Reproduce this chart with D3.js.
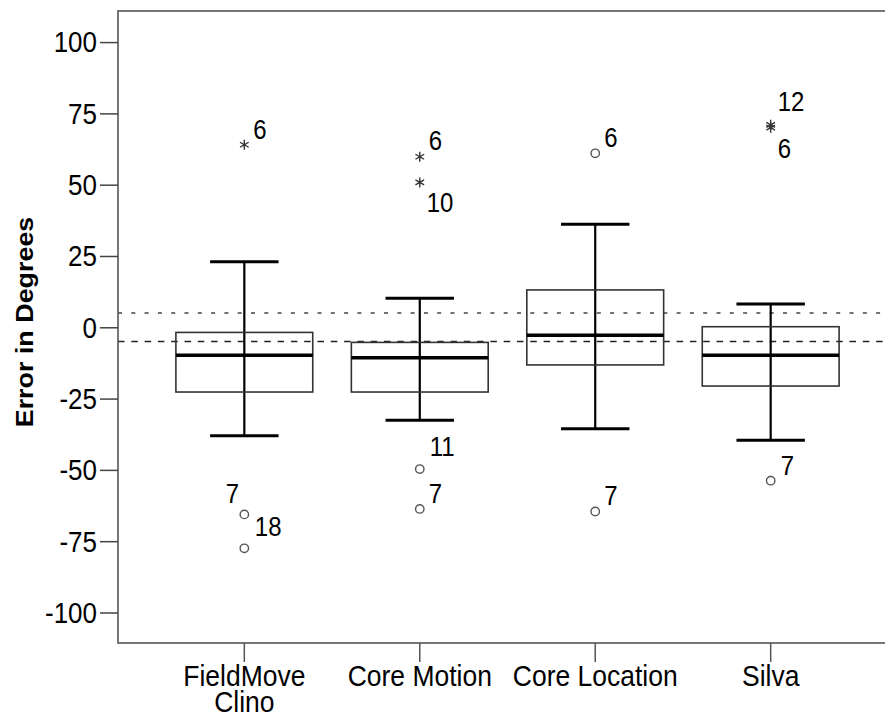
<!DOCTYPE html>
<html><head><meta charset="utf-8">
<script src="https://cdn.jsdelivr.net/npm/d3@7"></script>
<style>
body{margin:0;background:#fff}
svg text{font-family:"Liberation Sans",Arial,sans-serif;fill:#000}
</style>
</head><body><svg id="c" width="885" height="717"></svg>
<script>
// ---- data ----
const categories = ["FieldMove Clino", "Core Motion", "Core Location", "Silva"];
const categoryLines = [["FieldMove", "Clino"], ["Core Motion"], ["Core Location"], ["Silva"]];
const whiskerLow  = [-38.0, -32.6, -35.6, -39.6];
const q1          = [-22.7, -22.7, -13.2, -20.6];
const medians     = [-9.8, -10.7, -2.8, -9.8];
const q3          = [-1.8, -5.3, 13.1, 0.2];
const whiskerHigh = [23.0, 10.2, 36.1, 8.2];

const outlierCategory = ["FieldMove Clino","FieldMove Clino","FieldMove Clino",
  "Core Motion","Core Motion","Core Motion","Core Motion",
  "Core Location","Core Location",
  "Silva","Silva","Silva"];
const outlierValues = [64, -65.6, -77.5, 59.8, 50.8, -49.7, -63.7, 61, -64.6, 71, 70, -53.8];
const outlierCases  = ["6","7","18","6","10","11","7","6","7","12","6","7"];
const outlierExtreme = [true,false,false,true,true,false,false,false,false,true,true,false];

const yTicks = [-100, -75, -50, -25, 0, 25, 50, 75, 100];
const yTickLabels = ["-100", "-75", "-50", "-25", "0", "25", "50", "75", "100"];
const referenceLines = [5, -5];
const yLabel = "Error in Degrees";

// ---- layout (not data) ----
const labelOffsets = [[9,-6],[-18.5,-11.6],[10.5,-12],[9,-6.7],[7,29.4],[10,-13],[9,-6.3],
  [9,-6.6],[9,-6.7],[7,-14],[7,30.7],[10,-5.7]];
const pL = 118, pR = 897, pT = 11, pB = 643;
const sy = 1.12; // vertical text stretch

const svg = d3.select("#c");
const x = d3.scaleBand().domain(categories).range([pL, pR]).paddingInner(0).paddingOuter(0.22);
const y = d3.scaleLinear().domain([-110.7, 110.9]).range([pB, pT]);
const step = x.step();
const cx = c => x(c) + x.bandwidth() / 2;

// reference dashed lines
svg.selectAll("line.ref").data(referenceLines).join("line")
  .attr("class","ref")
  .attr("x1", pL).attr("x2", pR)
  .attr("y1", d => y(d)).attr("y2", d => y(d))
  .attr("stroke", (d,i) => i === 0 ? "#444" : "#222")
  .attr("stroke-width", 1.4)
  .attr("stroke-dasharray", (d,i) => i === 0 ? "4,9.3" : "6.5,6.8");

// frame
svg.append("rect").attr("x", pL).attr("y", pT).attr("width", pR-pL).attr("height", pB-pT)
  .attr("fill","none").attr("stroke","#555").attr("stroke-width",1.6);

// y axis
const yAxis = svg.append("g").attr("transform", `translate(${pL},0)`)
  .call(d3.axisLeft(y).tickValues(yTicks).tickSize(18).tickPadding(3)
    .tickFormat((d, i) => yTickLabels[i]));
yAxis.select(".domain").remove();
yAxis.selectAll(".tick line").attr("stroke","#444").attr("stroke-width",1.5);
yAxis.selectAll(".tick text").attr("font-size", 26).attr("font-family","Liberation Sans, Arial, sans-serif")
  .attr("fill","#000").attr("dy","0.34em").attr("transform", `scale(1,${sy})`);

// x axis
const xAxis = svg.append("g").attr("transform", `translate(0,${pB})`)
  .call(d3.axisBottom(x).tickSize(19).tickFormat(""));
xAxis.select(".domain").remove();
xAxis.selectAll(".tick line").attr("stroke","#555").attr("stroke-width",1.5);
categories.forEach((c, i) => {
  categoryLines[i].forEach((ln, j) => {
    svg.append("text").attr("text-anchor","middle").attr("font-size",26.5)
      .attr("transform", `translate(${cx(c)},${686 + j * 26}) scale(1,${sy})`).text(ln);
  });
});

// y label
svg.append("text").attr("text-anchor","middle").attr("font-size",24).attr("font-weight","bold")
  .attr("transform", `translate(33,322) rotate(-90) scale(${sy},1)`).text(yLabel);

// boxes
const g = svg.append("g");
categories.forEach((c, i) => {
  const xc = cx(c);
  const bw = step * 0.78, cw = step * 0.39;
  g.append("line").attr("x1",xc).attr("x2",xc).attr("y1",y(whiskerLow[i])).attr("y2",y(whiskerHigh[i]))
    .attr("stroke","#000").attr("stroke-width",2.2);
  [whiskerLow[i], whiskerHigh[i]].forEach(v => {
    g.append("line").attr("x1",xc-cw/2).attr("x2",xc+cw/2).attr("y1",y(v)).attr("y2",y(v))
      .attr("stroke","#000").attr("stroke-width",3);
  });
  g.append("rect").attr("x",xc-bw/2).attr("width",bw).attr("y",y(q3[i])).attr("height",y(q1[i])-y(q3[i]))
    .attr("fill","none").attr("stroke","#333").attr("stroke-width",1.6);
  g.append("line").attr("x1",xc-bw/2).attr("x2",xc+bw/2).attr("y1",y(medians[i])).attr("y2",y(medians[i]))
    .attr("stroke","#000").attr("stroke-width",3.4);
});

// outliers
const star = d3.symbol().type(d3.symbolAsterisk).size(70);
outlierValues.forEach((v, i) => {
  const xc = cx(outlierCategory[i]), yy = y(v);
  if (outlierExtreme[i]) {
    svg.append("path").attr("d", star()).attr("transform",`translate(${xc},${yy})`)
      .attr("fill","none").attr("stroke","#333").attr("stroke-width",1.4);
  } else {
    svg.append("circle").attr("cx",xc).attr("cy",yy).attr("r",4.2)
      .attr("fill","none").attr("stroke","#555").attr("stroke-width",1.4);
  }
  const [dx, dy] = labelOffsets[i];
  svg.append("text").attr("font-size",24)
    .attr("transform",`translate(${xc+dx},${yy+dy}) scale(1,${sy})`).text(outlierCases[i]);
});
</script>
</body></html>
